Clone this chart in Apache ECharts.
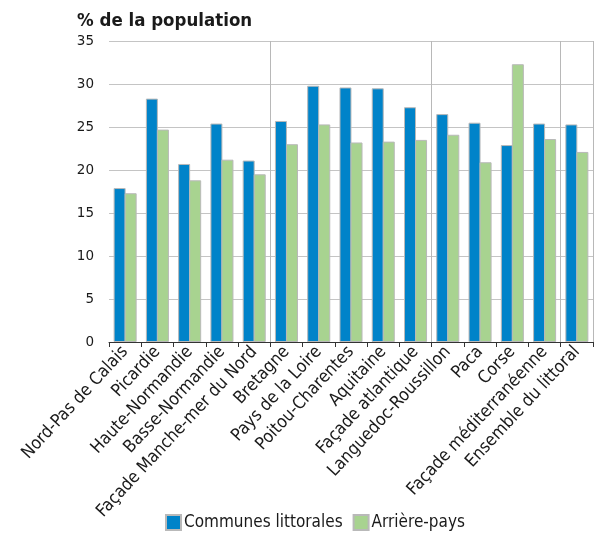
<!DOCTYPE html>
<html><head><meta charset="utf-8">
<script src="https://cdn.jsdelivr.net/npm/echarts@6/dist/echarts.min.js"></script>
<style>html,body{margin:0;padding:0;background:#fff}#c{width:595px;height:535px}</style>
</head><body><div id="c"></div>
<script>
const categories = ["Nord-Pas de Calais","Picardie","Haute-Normandie","Basse-Normandie","Façade Manche-mer du Nord","Bretagne","Pays de la Loire","Poitou-Charentes","Aquitaine","Façade atlantique","Languedoc-Roussillon","Paca","Corse","Façade méditerranéenne","Ensemble du littoral"];
const communesLittorales = [17.9,28.3,20.7,25.4,21.1,25.7,29.8,29.6,29.5,27.3,26.5,25.5,22.9,25.4,25.3];
const arrierePays = [17.3,24.7,18.8,21.2,19.5,23.0,25.3,23.2,23.3,23.5,24.1,20.9,32.3,23.6,22.1];
const yTicks = [0,5,10,15,20,25,30,35];
const groupStarts = [5,10,14];

const fontC = '"DejaVu Sans Condensed", "DejaVu Sans"';
const font = '"DejaVu Sans"';
const chart = echarts.init(document.getElementById('c'));
chart.setOption({
  animation:false,
  title:{text:'% de la population',left:72,top:7,textStyle:{fontFamily:fontC,fontSize:18.5,fontWeight:'bold',color:'#1a1a1a'}},
  grid:{left:109,right:2,top:41,bottom:193,containLabel:false},
  legend:{top:514,left:165,padding:0,itemWidth:15,itemHeight:15,itemGap:10,icon:'rect',
    textStyle:{fontFamily:fontC,fontSize:17,color:'#1a1a1a',padding:[0,0,0,-2]},
    data:['Communes littorales','Arrière-pays']},
  xAxis:{type:'category',data:categories,
    axisLine:{lineStyle:{color:'#333',width:1}},
    axisTick:{show:true,length:5,lineStyle:{color:'#333'}},
    splitLine:{show:true,interval:function(i){return groupStarts.indexOf(i)>=0;},lineStyle:{color:'#b8b8b8',width:1}},
    axisLabel:{rotate:47,interval:0,fontFamily:fontC,fontSize:17.5,color:'#1a1a1a',margin:7}},
  yAxis:{type:'value',min:yTicks[0],max:yTicks[yTicks.length-1],interval:5,
    axisLine:{show:false},axisTick:{show:false},
    splitLine:{lineStyle:{color:'#c4c4c4',width:1}},
    axisLabel:{fontFamily:font,fontSize:13.5,color:'#1a1a1a',margin:15}},
  series:[
    {name:'Communes littorales',type:'bar',data:communesLittorales,barWidth:12,barGap:'-8%',
     itemStyle:{color:'#0083c9',borderColor:'#b9b9b9',borderWidth:1}},
    {name:'Arrière-pays',type:'bar',data:arrierePays,barWidth:12,
     itemStyle:{color:'#a8d390',borderColor:'#b9b9b9',borderWidth:1}}
  ]
});
</script></body></html>
